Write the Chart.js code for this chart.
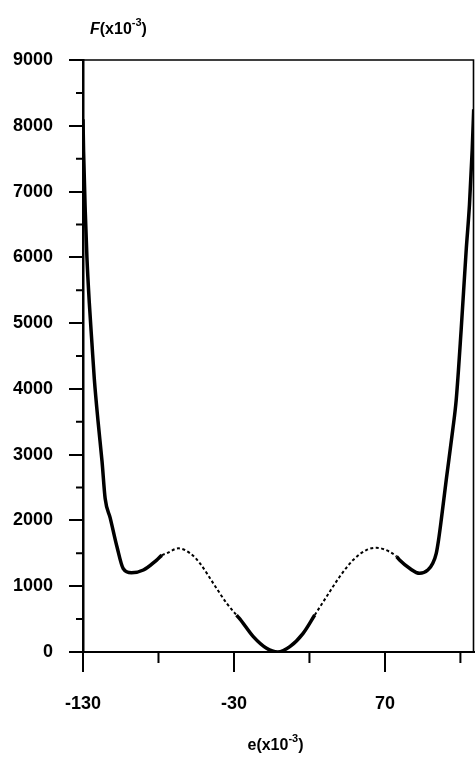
<!DOCTYPE html>
<html>
<head>
<meta charset="utf-8">
<script src="https://cdn.jsdelivr.net/npm/chart.js@4.4.1/dist/chart.umd.min.js"></script>
<style>
  html, body { margin: 0; padding: 0; background: #ffffff; }
  #wrap { width: 475px; height: 763px; position: relative; }
</style>
</head>
<body>
<div id="wrap"><canvas id="c"></canvas></div>
<script>
// strain e (x10^-3)
const strainE = [-130, -129.6, -128.5, -127.4, -125.8, -124.1, -122.5, -120, -117.4, -115.3, -112, -107.5, -103.4, -97.9, -90, -81.2, -77.7, -74.6, -66.8, -59, -52.5, -43.7, -34.8, -28.3, -26, -17.2, -8.4, -1, 7, 15.8, 23.5, 31.3, 40, 48.9, 57.7, 64.3, 73.1, 77.7, 79.7, 86.3, 93, 98.4, 101.7, 104, 105.5, 107.3, 110.6, 114.9, 117.2, 120.5, 123.8, 126, 127.8, 128.8];
// free energy F (x10^-3)
const freeF = [8100, 7600, 6700, 6000, 5300, 4700, 4150, 3500, 2900, 2330, 2040, 1600, 1270, 1205, 1246, 1398, 1470, 1500, 1576, 1500, 1348, 1044, 740, 560, 500, 233, 56, 0, 81, 284, 562, 840, 1144, 1398, 1550, 1585, 1524, 1450, 1398, 1272, 1196, 1246, 1348, 1500, 1700, 2006, 2614, 3374, 3830, 4900, 6100, 6800, 7629, 8250];
// unstable (dotted) ranges of e
const unstableRanges = [[-77.7, -28.3], [23.5, 77.7]];
// tick values
const xMajorTicks = [-130, -30, 70];
const xMinorTicks = [-80, 20, 120];
const yMajorTicks = [0, 1000, 2000, 3000, 4000, 5000, 6000, 7000, 8000, 9000];
const yMinorTicks = [500, 1500, 2500, 3500, 4500, 5500, 6500, 7500, 8500];
const yTitle = 'F(x10';
const xTitle = 'e(x10';
const expText = '-3';

const FONT = '"Liberation Sans", Arial, sans-serif';

function inUnstable(a, b) {
  return unstableRanges.some(r => a >= r[0] - 1e-6 && b <= r[1] + 1e-6);
}

const points = strainE.map((x, i) => ({ x: x, y: freeF[i] }));

function drawSupText(ctx, base, x, y, size, align, italicFirst) {
  ctx.save();
  ctx.fillStyle = '#000';
  ctx.textBaseline = 'middle';
  const fMain = 'bold ' + size + 'px ' + FONT;
  const fIt = 'italic bold ' + size + 'px ' + FONT;
  const fSup = 'bold ' + Math.round(size * 0.68) + 'px ' + FONT;
  const first = base[0], rest = base.slice(1);
  ctx.font = italicFirst ? fIt : fMain; const w1 = ctx.measureText(first).width;
  ctx.font = fMain; const w2 = ctx.measureText(rest).width;
  ctx.font = fSup; const w3 = ctx.measureText(expText).width;
  ctx.font = fMain; const w4 = ctx.measureText(')').width;
  const total = w1 + w2 + w3 + w4;
  let cx = align === 'center' ? x - total / 2 : x;
  ctx.textAlign = 'left';
  ctx.font = italicFirst ? fIt : fMain; ctx.fillText(first, cx, y); cx += w1;
  ctx.font = fMain; ctx.fillText(rest, cx, y); cx += w2;
  ctx.font = fSup; ctx.fillText(expText, cx, y - size * 0.42); cx += w3;
  ctx.font = fMain; ctx.fillText(')', cx, y);
  ctx.restore();
}

const decor = {
  id: 'decor',
  afterDraw(chart) {
    const ctx = chart.ctx;
    const a = chart.chartArea;
    const xs = chart.scales.x, ys = chart.scales.y;
    ctx.save();
    ctx.strokeStyle = '#000';
    // top and right frame
    ctx.lineWidth = 1.6;
    ctx.beginPath();
    ctx.moveTo(a.left, a.top); ctx.lineTo(a.right - 0.5, a.top); ctx.lineTo(a.right - 0.5, a.bottom);
    ctx.stroke();
    // minor ticks
    ctx.lineWidth = 2;
    ctx.beginPath();
    yMinorTicks.forEach(v => {
      const py = ys.getPixelForValue(v);
      ctx.moveTo(a.left, py); ctx.lineTo(a.left - 7, py);
    });
    xMinorTicks.forEach(v => {
      const px = xs.getPixelForValue(v);
      ctx.moveTo(px, a.bottom); ctx.lineTo(px, a.bottom + 11);
    });
    ctx.stroke();
    ctx.restore();
    // titles
    drawSupText(ctx, yTitle, a.left + 7, 30, 16, 'left', true);
    drawSupText(ctx, xTitle, (a.left + a.right) / 2 - 3, 746, 16, 'center', false);
  }
};

new Chart(document.getElementById('c'), {
  type: 'line',
  data: {
    datasets: [{
      data: points,
      borderColor: '#000',
      borderWidth: 3.5,
      pointRadius: 0,
      cubicInterpolationMode: 'monotone',
      fill: false,
      segment: {
        borderDash: c => inUnstable(c.p0.parsed.x, c.p1.parsed.x) ? [3, 2.5] : undefined,
        borderWidth: c => inUnstable(c.p0.parsed.x, c.p1.parsed.x) ? 2 : 3.5
      }
    }]
  },
  options: {
    responsive: true,
    maintainAspectRatio: false,
    animation: false,
    layout: { padding: { top: 60, right: 1, left: 0, bottom: 0 } },
    plugins: { legend: { display: false }, tooltip: { enabled: false } },
    scales: {
      x: {
        type: 'linear',
        min: -130,
        max: 129,
        afterBuildTicks: s => { s.ticks = xMajorTicks.map(v => ({ value: v })); },
        afterFit: s => { s.height = 111; },
        grid: { drawOnChartArea: false, drawTicks: true, tickLength: 20, color: '#000', lineWidth: 2 },
        border: { display: true, color: '#000', width: 2 },
        ticks: {
          color: '#000',
          padding: 21,
          maxRotation: 0,
          autoSkip: false,
          font: { family: FONT, size: 18, weight: 'bold' },
          callback: v => String(v)
        }
      },
      y: {
        type: 'linear',
        min: 0,
        max: 9000,
        afterBuildTicks: s => { s.ticks = yMajorTicks.map(v => ({ value: v })); },
        afterFit: s => { s.width = 83; },
        grid: { drawOnChartArea: false, drawTicks: true, tickLength: 14, color: '#000', lineWidth: 2 },
        border: { display: true, color: '#000', width: 2.5 },
        ticks: {
          color: '#000',
          padding: 16,
          autoSkip: false,
          font: { family: FONT, size: 18, weight: 'bold' },
          callback: v => String(v)
        }
      }
    }
  },
  plugins: [decor]
});
</script>
</body>
</html>
